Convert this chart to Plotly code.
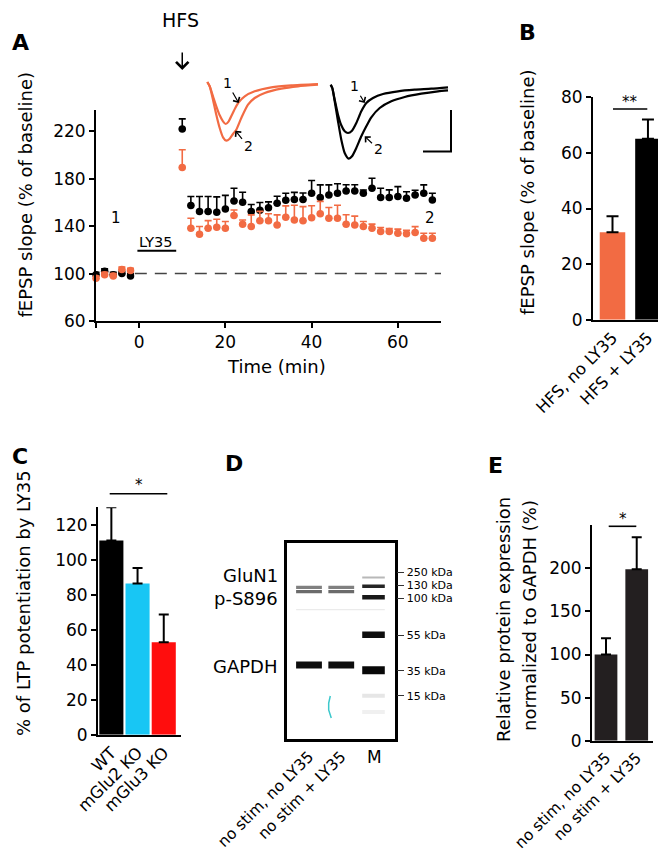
import plotly.graph_objects as go

W, H = 666, 853
def fx(p): return p / W
def fy(p): return 1 - p / H

ORANGE = '#F26B43'
FONT = 'DejaVu Sans'

# ---------------- Panel A data ----------------
time_min = [-10, -8, -6, -4, -2, 10, 12, 14, 16, 18, 20, 22, 24, 26, 28, 30, 32, 34, 36, 38,
            40, 42, 44, 46, 48, 50, 52, 54, 56, 58, 60, 62, 64, 66, 68]
black_slope = [99, 102, 99, 100, 98, 222, 157.4, 152.3, 152.3, 151.7, 154.5, 161.3, 160.2, 152.3, 153.5,
               155.5, 159.3, 161.8, 162.5, 162.5, 167.8, 164.1, 166.3, 167.8, 169.7, 169.7, 167.8, 172,
               164.1, 164.1, 165, 163.5, 166.3, 167.8, 162.1]
black_sem = [2, 2, 2, 2, 2, 8.5, 7.6, 12.7, 12.7, 13, 11.5, 10.7, 8.4, 6, 6.5, 5, 6, 6, 6, 5.5,
             10.7, 10.7, 8.5, 8, 5.3, 5.3, 2.7, 8.4, 7.9, 6.5, 8.4, 5.5, 4, 7, 5.7]
orange_slope = [96, 99, 98, 103.5, 102.5, 189.5, 138.2, 133.2, 138.2, 139, 138.2, 148.9, 141.6, 139.7,
                144.5, 144.5, 141, 147.6, 145.2, 144.5, 147.2, 150.4, 146.7, 146.7, 141.6, 141, 139.7,
                138.2, 135.4, 135.4, 134, 133.5, 134.6, 129.8, 129.8]
orange_sem = [2, 2, 2, 2, 2, 15, 8.5, 6.5, 6.5, 6.8, 5.7, 4.8, 3.6, 9.8, 8, 6, 8.5, 9.5, 12.5, 12,
              10, 10.5, 9, 11, 8, 7.5, 4.2, 3.5, 3.5, 2.5, 3.5, 3, 5, 4.2, 4.2]

# inset fEPSP traces (arbitrary units: time, voltage)
orange1_t = [9.3, 11.7, 15.0, 18.3, 21.7, 25.0, 27.7, 30.7, 34.0, 37.3, 40.7, 46.7, 56.7, 73.3, 93.3, 120.0]
orange1_v = [-14.0, -18.3, -28.3, -38.3, -47.3, -53.3, -56.0, -53.3, -46.7, -40.0, -34.3, -28.3, -23.3, -19.3, -17.3, -16.0]
orange2_t = [9.3, 11.7, 15.0, 18.3, 21.7, 25.0, 28.3, 31.7, 35.0, 38.3, 43.3, 50.0, 56.7, 66.7, 83.3, 100.0, 120.0]
orange2_v = [-14.0, -18.3, -31.7, -46.7, -60.0, -69.3, -72.7, -70.7, -66.0, -61.7, -50.0, -36.7, -30.0, -25.0, -20.7, -18.3, -16.7]
black1_t = [132.7, 134.3, 136.7, 140.0, 143.3, 146.7, 150.0, 154.0, 158.3, 163.3, 168.3, 175.0, 185.0, 200.0, 216.7, 233.3, 250.0]
black1_v = [-16.7, -20.0, -31.7, -46.7, -57.3, -63.3, -65.0, -62.7, -55.0, -43.3, -35.0, -30.0, -26.0, -23.3, -21.7, -20.7, -19.3]
black2_t = [132.7, 134.3, 136.7, 140.0, 143.3, 146.7, 150.7, 154.0, 158.3, 163.3, 168.3, 173.3, 181.7, 193.3, 206.7, 223.3, 240.0, 250.0]
black2_v = [-16.7, -20.0, -33.3, -53.3, -71.7, -85.0, -90.7, -88.3, -80.0, -68.3, -58.3, -49.3, -40.0, -33.3, -29.0, -25.7, -23.3, -22.3]

# ---------------- Panel B data ----------------
b_labels = ['HFS, no LY35', 'HFS + LY35']
b_values = [31.5, 65.1]
b_sem = [5.7, 6.9]

# ---------------- Panel C data ----------------
c_labels = ['WT', 'mGlu2 KO', 'mGlu3 KO']
c_values = [111, 86.4, 52.8]
c_sem = [19, 8.9, 15.9]

# ---------------- Panel D data (blot) ----------------
d_lanes = ['no stim, no LY35', 'no stim + LY35', 'M']
kda_labels = ['250 kDa', '130 kDa', '100 kDa', '55 kDa', '35 kDa', '15 kDa']
kda_pos = [29.5, 42.5, 55.5, 92, 127.7, 152.7]
band_lane = [1, 1, 2, 2, 1, 2, 3, 3, 3, 3, 3, 3, 3]
band_pos = [44.3, 48.7, 44.3, 48.7, 122, 122, 34.5, 43.3, 54.3, 91.7, 127.3, 152.7, 169]
band_density = [0.5, 0.58, 0.5, 0.58, 0.95, 0.95, 0.28, 0.85, 0.9, 0.95, 0.97, 0.1, 0.06]

# ---------------- Panel E data ----------------
e_labels = ['no stim, no LY35', 'no stim + LY35']
e_values = [100, 199]
e_sem = [19, 37]

fig = go.Figure()

# Panel A scatter
for vals, sem, col in [(black_slope, black_sem, 'black'), (orange_slope, orange_sem, ORANGE)]:
    fig.add_trace(go.Scatter(
        x=time_min, y=vals, mode='markers', xaxis='x', yaxis='y',
        marker=dict(color=col, size=7.5),
        error_y=dict(type='data', symmetric=False, array=sem, arrayminus=[0] * len(sem),
                     color=col, thickness=1.6, width=3.5),
        showlegend=False, hoverinfo='skip', cliponaxis=False))

# inset traces
for t, v, col in [(orange1_t, orange1_v, ORANGE), (orange2_t, orange2_v, ORANGE),
                  (black1_t, black1_v, 'black'), (black2_t, black2_v, 'black')]:
    fig.add_trace(go.Scatter(x=t, y=v, mode='lines', xaxis='x6', yaxis='y6',
                             line=dict(color=col, width=2.2, shape='spline', smoothing=0.6),
                             showlegend=False, hoverinfo='skip'))

# Panel B bars
fig.add_trace(go.Bar(x=b_labels, y=b_values, xaxis='x2', yaxis='y2', width=0.72,
                     marker=dict(color=[ORANGE, 'black'], line=dict(width=0)),
                     error_y=dict(type='data', symmetric=False, array=b_sem, arrayminus=[0, 0],
                                  color='black', thickness=2, width=6),
                     showlegend=False, hoverinfo='skip'))

# Panel C bars
fig.add_trace(go.Bar(x=c_labels, y=c_values, xaxis='x3', yaxis='y3', width=0.92,
                     marker=dict(color=['black', '#18C6F4', '#FF0D0D'], line=dict(width=0)),
                     error_y=dict(type='data', symmetric=False, array=c_sem, arrayminus=[0, 0, 0],
                                  color='black', thickness=2, width=5),
                     showlegend=False, hoverinfo='skip'))

# Panel E bars
fig.add_trace(go.Bar(x=e_labels, y=e_values, xaxis='x5', yaxis='y5', width=0.74,
                     marker=dict(color='#231F20', line=dict(width=0)),
                     error_y=dict(type='data', symmetric=False, array=e_sem, arrayminus=[0, 0],
                                  color='black', thickness=2, width=5),
                     showlegend=False, hoverinfo='skip'))

# Panel D blot bands
band_thick = [3.3, 3.3, 3.3, 3.3, 7, 7, 2, 3.5, 4.5, 6.5, 8, 4, 4]
for lane, pos, dens, th in zip(band_lane, band_pos, band_density, band_thick):
    hw = 0.40 if lane < 3 else 0.35
    g = int(round(255 * (1 - dens)))
    fig.add_trace(go.Scatter(x=[lane - hw, lane + hw], y=[pos, pos], mode='lines',
                             xaxis='x4', yaxis='y4',
                             line=dict(color='rgb(%d,%d,%d)' % (g, g, g), width=th),
                             showlegend=False, hoverinfo='skip'))
# faint membrane line and cyan speck
fig.add_trace(go.Scatter(x=[0.6, 3.35], y=[66.7, 66.7], mode='lines', xaxis='x4', yaxis='y4',
                         line=dict(color='#ebebeb', width=1.2), showlegend=False, hoverinfo='skip'))
fig.add_trace(go.Scatter(x=[1.66, 1.61, 1.61, 1.69], y=[153, 160, 167, 175], mode='lines',
                         xaxis='x4', yaxis='y4', line=dict(color='#3cc8cc', width=1.5),
                         showlegend=False, hoverinfo='skip'))

def ax(**kw):
    d = dict(showline=True, linecolor='black', linewidth=2, ticks='outside', ticklen=5,
             tickwidth=2, tickcolor='black', showgrid=False, zeroline=False, automargin=False,
             tickfont=dict(family=FONT, size=17, color='black'), fixedrange=True)
    d.update(kw)
    return d

rot_font = dict(family=FONT, size=15.5, color='black')

layout = dict(
    template='none',
    width=W, height=H, margin=dict(l=0, r=0, t=0, b=0, pad=0), autosize=False,
    paper_bgcolor='white', plot_bgcolor='rgba(0,0,0,0)',
    font=dict(family=FONT, color='black'), showlegend=False, hovermode=False,
    xaxis=ax(domain=[fx(88), fx(433)], range=[-10, 70], tickvals=[-10, 0, 20, 40, 60],
             ticktext=['', '0', '20', '40', '60'], anchor='y'),
    yaxis=ax(domain=[fy(313), fy(102)], range=[60, 238], tickvals=[60, 100, 140, 180, 220], anchor='x'),
    xaxis2=ax(domain=[fx(585), fx(663)], range=[-0.55, 1.65], ticks='', tickangle=-45, anchor='y2',
              tickfont=dict(family=FONT, size=16.5, color='black')),
    yaxis2=ax(domain=[fy(311.7), fy(89.3)], range=[0, 80], tickvals=[0, 20, 40, 60, 80], anchor='x2'),
    xaxis3=ax(domain=[fx(90), fx(173.3)], range=[-0.51, 2.67], ticks='', tickangle=-45, anchor='y3',
              tickfont=dict(family=FONT, size=16.5, color='black')),
    yaxis3=ax(domain=[fy(726.7), fy(499.3)], range=[0, 130], tickvals=[0, 20, 40, 60, 80, 100, 120], anchor='x3'),
    xaxis4=ax(domain=[fx(279.3), fx(386.7)], range=[0.327, 3.657], tickvals=[1, 2], ticktext=d_lanes[:2],
              ticks='', tickangle=-45, mirror=True, linewidth=2.5, anchor='y4', tickfont=rot_font),
    yaxis4=ax(domain=[fy(730.7), fy(535)], range=[195.7, 0], side='right', mirror=True, linewidth=2.5,
              tickvals=kda_pos, ticktext=kda_labels, ticklen=7, tickwidth=1, tickcolor='#333',
              tickfont=dict(family=FONT, size=11, color='black'), anchor='x4'),
    xaxis5=ax(domain=[fx(584), fx(645)], range=[-0.456, 1.53], ticks='', tickangle=-45, anchor='y5',
              tickfont=rot_font),
    yaxis5=ax(domain=[fy(732.7), fy(517.3)], range=[0, 250], tickvals=[0, 50, 100, 150, 200], anchor='x5'),
    xaxis6=dict(domain=[fx(190), fx(450)], range=[0, 260], visible=False, anchor='y6', fixedrange=True),
    yaxis6=dict(domain=[fy(160), fy(60)], range=[-100, 0], visible=False, anchor='x6', fixedrange=True),
)

ann = []
def txt(x, y, s, size=17, bold=False, angle=0, **kw):
    d = dict(x=fx(x), y=fy(y), xref='paper', yref='paper', text=('<b>%s</b>' % s) if bold else s,
             showarrow=False, textangle=angle, xanchor='center', yanchor='middle',
             font=dict(family=FONT, size=size, color='black'))
    d.update(kw)
    ann.append(d)

# panel letters
txt(12, 35, 'A', 22, bold=True)
txt(519, 25, 'B', 22, bold=True)
txt(12, 448, 'C', 22, bold=True)
txt(226, 455, 'D', 22, bold=True)
txt(487, 457, 'E', 22, bold=True)

# axis titles
txt(16.5, 187, 'fEPSP slope (% of baseline)', 18, angle=-90)
txt(268, 358, 'Time (min)', 18)
txt(520, 184, 'fEPSP slope (% of baseline)', 18, angle=-90)
txt(15, 595, '% of LTP potentiation by LY35', 18, angle=-90)
txt(495, 612, 'Relative protein expression', 18, angle=-90)
txt(521, 608, 'normalized to GAPDH (%)', 18, angle=-90)

# panel A labels
txt(173, 12, 'HFS', 19)
ann.append(dict(x=10, y=fy(62), xref='x', yref='paper', ax=0, ay=-19, text='', showarrow=True,
                arrowhead=4, arrowsize=1.6, arrowwidth=1.5, arrowcolor='black'))
ann.append(dict(x=3.7, y=127, xref='x', yref='y', text='LY35', showarrow=False,
                font=dict(family=FONT, size=14.5, color='black')))
ann.append(dict(x=-5.3, y=147, xref='x', yref='y', text='1', showarrow=False,
                font=dict(family=FONT, size=15, color='black')))
ann.append(dict(x=67.4, y=147, xref='x', yref='y', text='2', showarrow=False,
                font=dict(family=FONT, size=15, color='black')))
for tip, tail, lab in [((40.7, -35), (29.3, -15), '1'), ((37.3, -62.7), (50, -78), '2'),
                       ((166.7, -35), (156.7, -18.3), '1'), ((166.7, -68.3), (180, -81), '2')]:
    ann.append(dict(x=tip[0], y=tip[1], xref='x6', yref='y6', ax=tail[0], ay=tail[1],
                    axref='x6', ayref='y6', text=lab, showarrow=True, arrowhead=4,
                    arrowsize=1.2, arrowwidth=1.2, arrowcolor='black',
                    font=dict(family=FONT, size=14, color='black')))

# significance stars
txt(622, 94, '**', 15)
txt(130.5, 477, '*', 15)
txt(614.5, 511, '*', 15)

# blot labels
for s, y in [('GluN1', 567), ('p-S896', 590), ('GAPDH', 658)]:
    txt(272, y, s, 18, xanchor='right')
txt(366.7, 749, 'M', 17)

layout['annotations'] = ann

shapes = []
# dashed baseline
shapes.append(dict(type='line', xref='x', yref='y', x0=-1, x1=70, y0=100, y1=100, layer='below',
                   line=dict(color='#444', width=1.5, dash='12px,8px')))
# LY35 bar
shapes.append(dict(type='line', xref='x', yref='y', x0=-0.4, x1=8.6, y0=119.2, y1=119.2,
                   line=dict(color='black', width=2)))
# scale bar
shapes.append(dict(type='line', xref='paper', yref='paper', x0=fx(443), x1=fx(443), y0=fy(102), y1=fy(143.5),
                   line=dict(color='black', width=2)))
shapes.append(dict(type='line', xref='paper', yref='paper', x0=fx(415), x1=fx(444), y0=fy(143.5), y1=fy(143.5),
                   line=dict(color='black', width=2)))
# significance lines
for x0, x1, y in [(605, 639.3, 101), (101.7, 159.3, 485.7), (600.7, 628.3, 518.3)]:
    shapes.append(dict(type='line', xref='paper', yref='paper', x0=fx(x0), x1=fx(x1), y0=fy(y), y1=fy(y),
                       line=dict(color='black', width=1.6)))
layout['shapes'] = shapes

fig.update_layout(**layout)
fig.write_html('out.html')
